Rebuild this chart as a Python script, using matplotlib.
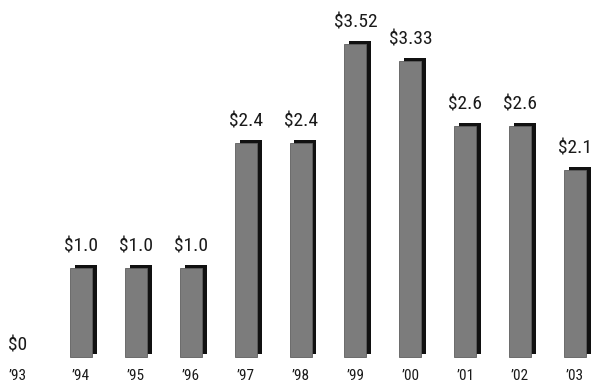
import matplotlib
matplotlib.use("Agg")
import matplotlib.pyplot as plt
from matplotlib import font_manager

years = ["’93", "’94", "’95", "’96", "’97", "’98", "’99", "’00", "’01", "’02", "’03"]
values = [0.0, 1.0, 1.0, 1.0, 2.4, 2.4, 3.52, 3.33, 2.6, 2.6, 2.1]
labels = ["$0", "$1.0", "$1.0", "$1.0", "$2.4", "$2.4", "$3.52", "$3.33", "$2.6", "$2.6", "$2.1"]

avail = sorted({(f.name, f.stretch) for f in font_manager.fontManager.ttflist})
fam = "DejaVu Sans"
stretch = "normal"
for cand in ["Liberation Sans Narrow", "Roboto Condensed", "Open Sans Condensed"]:
    if any(n == cand for n, s in avail):
        fam = cand
        break
else:
    if any(n == "DejaVu Sans" and s == "condensed" for n, s in avail):
        stretch = "condensed"

fig = plt.figure(figsize=(6.12, 3.84), dpi=100)
ax = fig.add_axes([0, 0, 1, 1])
ax.set_xlim(-0.475, 10.674)
ax.set_ylim(-0.303, 4.011)
ax.axis("off")

x = list(range(len(values)))
w = 0.40
dx = 0.09
dy = 0.034
xs = [i for i, v in zip(x, values) if v > 0]
vs = [v for v in values if v > 0]
ax.bar([i + dx for i in xs], vs, width=w, bottom=dy, color="#111111", zorder=1)
ax.bar(xs, vs, width=w, color="#7c7c7c", edgecolor="#5e5e5e", linewidth=0.6, zorder=2)

for i, v, lab in zip(x, values, labels):
    shift = -6 if v == 0 else 0
    ax.annotate(lab, (i, v), xytext=(shift, 9 if v > 0 else 2), textcoords="offset points",
                ha="center", va="bottom", fontsize=14, family=fam, stretch=stretch, color="#1a1a1a")
    ax.annotate(years[i], (i, 0), xytext=(shift, -13.5), textcoords="offset points",
                ha="center", va="center", fontsize=11, family=fam, stretch=stretch, color="#1a1a1a")

fig.savefig("out.png", dpi=100)
